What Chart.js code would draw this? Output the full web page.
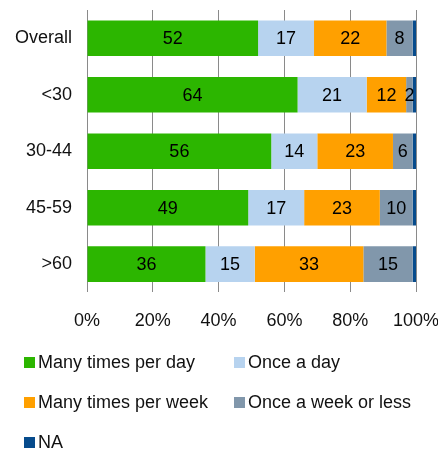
<!DOCTYPE html>
<html>
<head>
<meta charset="utf-8">
<script src="https://cdn.jsdelivr.net/npm/chart.js@4"></script>
<style>
  body { margin: 0; background: #fff; font-family: "Liberation Sans", Arial, sans-serif; }
  #wrap { position: relative; width: 438px; height: 450px; }
  #box { position: absolute; left: 0; top: 0; width: 438px; height: 354px; }
  #legend { position: absolute; left: 24px; top: 342px; display: grid; grid-template-columns: 210px 200px; grid-auto-rows: 40px; }
  .item { display: flex; align-items: center; font-size: 18px; color: #111; white-space: nowrap; }
  .sw { width: 11px; height: 11px; margin-right: 3px; flex: none; }
</style>
</head>
<body>
<div id="wrap">
  <div id="box"><canvas id="c"></canvas></div>
  <div id="legend"></div>
</div>
<script>
const GROUPS = ['Overall', '<30', '30-44', '45-59', '>60']
const SERIES = ['Many times per day', 'Once a day', 'Many times per week', 'Once a week or less', 'NA']
const MANY_DAY = [52, 64, 56, 49, 36]
const ONCE_DAY = [17, 21, 14, 17, 15]
const MANY_WEEK = [22, 12, 23, 23, 33]
const ONCE_WEEK = [8, 2, 6, 10, 15]
const NA = [1, 1, 1, 1, 1]
const TICKS = [0, 20, 40, 60, 80, 100]

const COLORS = ['#2cb600', '#b7d3ef', '#ffa000', '#8197ab', '#064b8c']
const VALUES = [MANY_DAY, ONCE_DAY, MANY_WEEK, ONCE_WEEK, NA]
const FONT = '"Liberation Sans", Arial, sans-serif'

// numbers in the middle of each segment, NA left unlabelled
const valueLabels = {
  id: 'valueLabels',
  afterDatasetsDraw(chart) {
    const ctx = chart.ctx
    ctx.save()
    ctx.font = '18px ' + FONT
    ctx.fillStyle = '#000'
    ctx.textAlign = 'center'
    ctx.textBaseline = 'middle'
    chart.data.datasets.forEach((ds, i) => {
      if (ds.label === 'NA') return
      chart.getDatasetMeta(i).data.forEach((bar, j) => {
        const p = bar.getCenterPoint()
        ctx.fillText(ds.data[j], p.x, p.y + 1)
      })
    })
    ctx.restore()
  }
}

const chart = new Chart(document.getElementById('c'), {
  type: 'bar',
  data: {
    labels: GROUPS,
    datasets: SERIES.map((s, i) => ({
      label: s, data: VALUES[i], backgroundColor: COLORS[i], borderWidth: 0,
      barPercentage: 0.63, categoryPercentage: 1,
    })),
  },
  options: {
    indexAxis: 'y',
    responsive: true, maintainAspectRatio: false, animation: false,
    layout: { padding: { top: 10, right: 0, bottom: 4, left: 0 } },
    plugins: { legend: { display: false }, tooltip: { enabled: false } },
    scales: {
      x: {
        stacked: true, min: 0, max: 100,
        afterBuildTicks: ax => { ax.ticks = TICKS.map(v => ({ value: v })) },
        // just enough room on the right for the "100%" label
        afterFit: ax => { ax.paddingLeft = 0; ax.paddingRight = 22 },
        ticks: { color: '#111', font: { size: 18, family: FONT }, padding: 18, callback: v => v + '%' },
        grid: { color: '#8a8a8a', drawTicks: false },
        border: { display: false },
      },
      y: {
        stacked: true,
        // tick padding would otherwise also push the plot down from the top
        afterFit: ax => { ax.paddingTop = 0; ax.paddingBottom = 0 },
        ticks: { color: '#111', font: { size: 18, family: FONT }, padding: 15 },
        grid: { display: false, drawTicks: false },
        border: { display: false },
      },
    },
  },
  plugins: [valueLabels],
})

const leg = document.getElementById('legend')
chart.data.datasets.forEach(ds => {
  const d = document.createElement('div')
  d.className = 'item'
  d.innerHTML = '<span class="sw" style="background:' + ds.backgroundColor + '"></span>' + ds.label
  leg.appendChild(d)
})
</script>
</body>
</html>
